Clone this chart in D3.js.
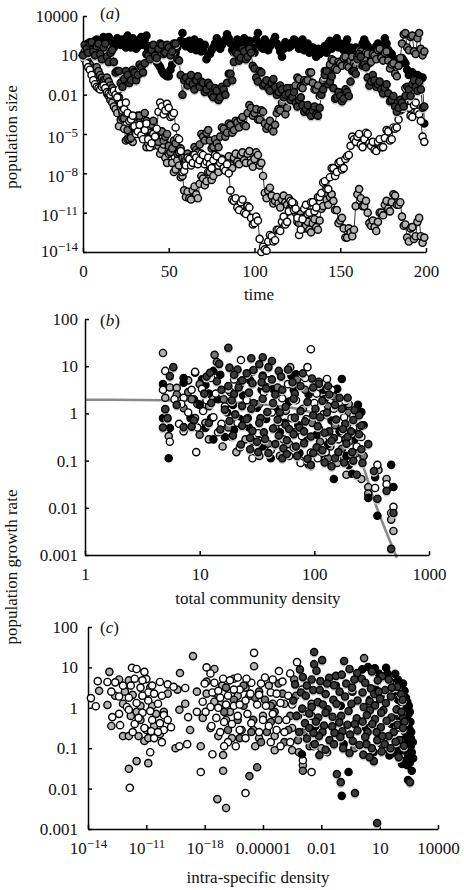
<!DOCTYPE html>
<html>
<head>
<meta charset="utf-8">
<script src="https://cdn.jsdelivr.net/npm/d3@7"></script>
<style>
    body { margin: 0; background: #fff; }
    text { font-family: "Liberation Serif", serif; font-size: 17px; fill: #111; }
    .domain, .tick line { stroke: #000; stroke-width: 1.5; }
</style>
</head>
<body>
<div id="chart"></div>
<script>
//all values are log10 of what the axes show

//panel a: even time steps, then the odd ones in between
var aTimes = d3.range(0, 200);
var aBlack = [
    1,1.6,2,1.7,2.2,1.8,2.4,1.9,2.1,1.6,
    2.3,1.8,1.9,2.5,1.6,2.1,1.7,2.4,2.2,1.4,
    1.3,0.8,0.3,-0.2,-0.5,-0.6,0.3,1.2,1.9,2.7,
    1.7,2.1,1.8,1.4,2,1.5,0.7,1.1,1.6,2.3,
    1.5,2,2.6,1.9,1.2,2.2,1.7,2.3,1.8,1.3,
    1.2,2.7,1.6,2.2,1.4,1.9,2.4,1.7,0.9,2,
    1.6,2,2.1,1.5,2.2,1.7,1.2,1.6,0.9,1.1,
    1.5,1.2,2.1,1.7,2.3,1.9,1.4,2.2,1.6,1,
    0.8,1.4,2.2,1.7,1,1.5,1.9,1.2,2.3,1.4,
    1.1,0.6,0.2,0.8,0.4,-0.5,-0.3,-0.7,-0.6,-0.7
];
var aBlackOdd = [
    1.3,1.9,1.5,2.1,1.6,2.2,1.7,2.4,1.5,2.1,
    1.9,2.2,1.6,2,2.3,1.5,2.2,1.8,2.5,1.7,
    0.9,0.5,0.1,-0.4,-0.6,-0.1,0.8,1.6,2.1,2,
    2,1.5,2.2,1.8,1.3,1.8,1,1.4,1.9,1.7,
    1.8,2.2,2.3,1.4,1.7,1.9,2,1.5,2.1,1.6,
    2.2,1.9,1.5,1.8,1.7,2.1,1.9,1.3,1.5,1.8,
    1.7,2.2,1.8,1.9,1.4,1.9,1.3,1.2,1.5,1.4,
    1.7,1.9,1.5,2,1.6,1.8,1.9,1.3,1.2,1.6,
    1.1,1.9,1.9,1.3,1.3,1.7,1.5,1.8,1.9,1.2,
    0.8,0.4,0.5,0.6,-0.1,-0.4,-0.6,-0.5,-0.8,-4.2
];
var aDark = [
    1,1.5,1.9,1.3,1.7,1.1,1.6,0.9,1.2,0.5,
    -0.2,-1.1,-0.8,-0.5,-0.9,-0.3,-0.5,0.1,0.4,1,
    1.4,1,1.5,1.8,1.2,1.6,1.3,1.9,0.6,-2,
    -0.7,-1,-1.2,-0.9,-1.4,-1.1,-1.6,-1.3,-2.2,-1.7,
    -2.2,-1.6,-1.1,-0.4,0.5,1.1,0.8,1.3,0.9,1.2,
    0,-1,-0.3,-1.2,-1.5,-1.1,-1.4,-1.8,-1.6,-2,
    -1.9,-2.2,-2.6,-2.4,-2.8,-3.1,-3.4,-3.2,-3.5,-3,
    -1.6,-0.2,-1,-1.5,-2.2,-2.1,-2.3,-1.8,-1,-0.2,
    0.7,0.9,0.3,-0.7,-1,-0.9,-1.2,-1.6,-1.5,-1.9,
    -2.4,-2.9,-3,-2.6,-2.1,-1.6,-1.2,-1.4,-1,-3
];
var aDarkOdd = [
    1.8,1.2,2,1,1.9,0.7,1.9,0.5,1.4,-0.3,
    -0.2,-1.4,-0.2,-1.1,-0.1,-0.9,0.3,-0.3,1.1,0.7,
    1.8,0.8,1.9,1.1,1.8,1,1.9,0.7,-0.5,-0.9,
    -1.3,-0.5,-1.6,-0.6,-1,-1.8,-1.1,-2,-1.5,-2.4,
    -1.4,-2,-0.4,-0.9,1.2,0.6,1.5,0.7,1.5,0.2,
    -0.7,-0.2,-1.3,-0.9,-1.7,-0.8,-2,-1.3,-2.2,-1.5,
    -2.4,-1.8,-2.9,-2.2,-3.3,-2.8,-3.6,-2.9,-3.6,-2,
    -0.5,-1.2,-0.6,-2.3,-1.8,-2.5,-1.6,-2.1,-0.2,-0.4,
    1.1,0.2,0.1,-1.3,-0.5,-1.4,-1,-1.9,-1.2,-2.5,
    -2.1,-3.3,-2.4,-2.9,-1.4,-2.1,-0.9,-1.7,-1.6,-2.9
];
var aMid = [
    1,0.8,0.3,-0.2,0.1,-0.5,-0.9,-0.7,-1.3,-1.8,
    -2.3,-3,-3.8,-4.7,-5.3,-4.2,-3.6,-4.9,-3.4,-5.4,
    -4.3,-4.9,-5.6,-4.8,-5.2,-5.9,-6.1,-5.7,-6.4,-6.8,
    -7,-6.9,-6.6,-6.2,-5.8,-5.2,-4.9,-5.5,-6,-5.7,
    -5.2,-4.6,-4.9,-4.3,-4.7,-4.1,-3.9,-4.3,-3.4,-3,
    -3.4,-3.9,-3.2,-4.2,-4.4,-4.6,-4.3,-3.1,-2.6,-3.5,
    -1.6,-2.2,-1.3,-0.8,-1.5,-1,-0.3,-1.1,-1.6,-2.1,
    -0.9,-0.2,0.3,0.6,-0.1,0.4,0.8,0.2,0.6,0.4,
    0.9,1.3,0.7,1.1,0.5,1,1.4,0.8,1.2,0.6,
    0.3,-0.4,0.2,1.9,2.7,1.4,2.5,1.1,2.7,1
];
var aMidOdd = [
    0.9,0.5,0,-0.1,-0.2,-0.7,-0.8,-1,-1.5,-2,
    -2.2,-3.8,-3.4,-5.4,-4.4,-4.6,-3.6,-5,-4,-5.5,
    -4,-5.5,-4.8,-5.5,-5,-6.4,-5.5,-6.5,-6.1,-7.2,
    -6.5,-7.2,-6,-6.4,-5,-5.5,-4.7,-6.1,-5.4,-6,
    -4.5,-5.2,-4.2,-4.9,-4,-4.5,-3.7,-4.4,-2.8,-3.6,
    -3.1,-3.9,-3.3,-4.6,-4,-4.8,-3.4,-3.2,-2.3,-3,
    -1.5,-2.2,-0.7,-1.4,-0.9,-0.9,-0.3,-1.6,-1.3,-1.9,
    -0.2,-0.3,0.7,0,0.5,0.2,0.9,0.1,0.9,0.2,
    1.4,0.6,1.2,0.4,1.1,0.7,1.5,0.6,1.3,0,
    0.4,-0.6,0.8,2.6,1.6,2.4,1.3,2.3,1.5,1.3
];
var aLight = [
    1,0.6,0.1,-0.4,-1,-1.5,-1.1,-1.9,-2.4,-2.9,
    -3.4,-3.9,-4.6,-5.4,-5.1,-4.6,-4,-4.8,-5.3,-5.7,
    -5.1,-5.5,-5.9,-6.2,-6.8,-6.5,-7.2,-7.7,-7.4,-8.2,
    -9.8,-9.9,-9.3,-9.6,-8.8,-8.4,-8.6,-7.9,-8.2,-7.5,
    -7.2,-7.6,-7,-7.4,-6.8,-7.1,-6.6,-7,-6.5,-7.2,
    -6.9,-6.6,-7.2,-9.5,-9.3,-9.7,-10.1,-10.3,-10,-10.2,
    -9.9,-10.5,-11,-11.8,-11.4,-12,-12.3,-11.8,-12.1,-11.6,
    -10.5,-10,-9.8,-10.1,-10.8,-11.6,-12.2,-12.9,-12.5,-12.3,
    -9.6,-9.9,-10.5,-11,-12,-12.1,-11.7,-11,-10.4,-10.7,
    -10.2,-9.7,-10.4,-11.3,-11.9,-13.2,-12.1,-12.8,-11.4,-13.3
];
var aLightOdd = [
    0.8,0.3,-0.2,-0.7,-1.2,-1.3,-1.5,-2.1,-2.6,-3.1,
    -4.4,-3.4,-5.5,-4.8,-5.6,-3.8,-5,-4.3,-6,-4.9,
    -5.9,-5,-6.5,-5.8,-7.2,-6.3,-7.9,-7,-8.3,-9.3,
    -9.4,-10,-9,-9.9,-8.2,-8.9,-7.9,-8.5,-7.5,-7.9,
    -6.9,-7.7,-6.7,-7.6,-6.5,-7.3,-6.4,-7.2,-6.3,-7.5,
    -6.4,-7.4,-8.2,-9.9,-9.1,-10.3,-9.8,-10.6,-9.7,-10.4,
    -10.6,-10.3,-11.7,-11.1,-12.2,-11.7,-12.5,-11.5,-12.3,-10.7,
    -9.7,-10.4,-9.6,-10.8,-11.8,-11.4,-12.9,-12.2,-12.8,-10.5,
    -9.2,-10.5,-10.1,-11.8,-11.6,-12.4,-11,-11.2,-10.1,-10.9,
    -9.6,-10.4,-10.2,-12,-12.9,-12.2,-13,-11.7,-12.8,-12.9
];
var aWhite = [
    1,0.4,-0.1,-0.9,-1.4,-1.6,-1.3,-1.8,-2,-1.7,
    -2.2,-2.7,-3.1,-3.4,-3.9,-4.4,-4.8,-5.1,-4.7,-5.4,
    -5.7,-5.2,-3.3,-2.9,-3.2,-3,-3.6,-4.5,-5.4,-7.9,
    -7.4,-6.9,-7.2,-6.8,-7,-6.6,-7.1,-7.3,-7,-6.7,
    -7.2,-7.6,-7.3,-9.3,-10.1,-10.6,-10.2,-11,-10.5,-11.4,
    -11.8,-11.6,-14,-13.8,-13.2,-12.8,-13.1,-12.3,-11.7,-11.9,
    -10.9,-10.2,-10.7,-12.7,-11.5,-10.4,-11,-10.2,-10.6,-9.8,
    -8.7,-9.2,-8.3,-7.6,-7.9,-7.1,-7.6,-6.7,-5.9,-5.4,
    -5.2,-5.8,-5.4,-5,-5.9,-6.2,-5.6,-6,-5.3,-4.8,
    -5.4,-4.6,-3.9,-3.1,-1.5,-3,-3.7,-2.6,-3.5,-5.2
];
var aWhiteOdd = [
    0.7,0.1,-0.5,-1.2,-1.5,-1.4,-1.5,-1.9,-1.8,-2,
    -1.6,-3.2,-2.6,-4,-3.6,-5,-4.3,-5.4,-4.2,-6,
    -5,-4.6,-2.6,-3.5,-2.7,-3.7,-3.4,-5.3,-6.3,-7.8,
    -6.8,-7.4,-6.6,-7.3,-6.5,-7.3,-6.8,-7.6,-6.6,-7.4,
    -7,-7.8,-8,-10,-9.9,-10.8,-10,-11.1,-10.6,-11.9,
    -11.3,-13,-13.6,-13.9,-12.7,-13.2,-12.3,-12.4,-11.3,-11.7,
    -10.1,-10.8,-11.4,-12.3,-10.7,-11.1,-10.2,-10.9,-9.8,-9.5,
    -8.6,-9.2,-7.6,-8.2,-7.2,-7.7,-6.9,-6.6,-5.2,-5.6,
    -5,-6,-4.9,-5.7,-5.6,-6.3,-5.4,-6,-4.7,-5.5,
    -4.5,-4.5,-3.2,-2.6,-2,-3.6,-2.8,-3.3,-4,-5.6
];

//panel b: [community density, growth rate]
var bLight = [[.68,1.28],[.74,.55],[.8,.54],[.7,.33],[.96,-.1],[.73,-.48],[1.32,-.82],[2.41,-1.39],[2.47,-1.56],[2.47,-1.7],[2.63,-1.39],[2.67,-2.25],[2.69,-2.49],[2.56,-1.2],[1.79,.98],[1.1,.35],[1.05,-.2],[1.27,.45],[1.4,-.55],[1.55,.8],[1.66,-.3],[1.78,-.65],[1.9,.1],[2,-.85],[2.07,.42],[2.14,-.7],[2.2,-1.05],[2.25,.1],[2.33,-.42],[1.97,-1.12],[1.2,-.7],[1.02,.62],[1.7,-.9],[2.28,-1.3],[1.88,-1],[.9,.7],[.98,.2],[1.08,-.55],[2.3,.2],[1.52,-.9]];
var bMid = [[.8,.4],[.86,.11],[.93,.3],[1.13,1.24],[1.15,1.09],[1.08,.15],[1.25,-.3],[1.35,.6],[1.42,-.1],[1.52,.2],[1.6,-.65],[1.68,.55],[1.75,.05],[1.83,-.4],[1.92,.5],[1.98,-.2],[2.05,-.6],[2.12,.15],[2.18,-.25],[2.24,-.75],[2.3,.02],[2.38,-.3],[2.43,-.9],[2.12,-.95],[1.47,-.6],[1.21,.3],[1,-.45],[2.36,-.85],[1.85,.72],[2.17,.36],[.9,.45],[1,.62]];
var bBlack = [[.68,.62],[.68,-.1],[.74,-.31],[.86,.75],[.86,.65],[.96,.86],[1.05,-.31],[.73,-.95],[1.87,-.84],[1.84,.83],[1.8,.8],[2.24,.73],[2.2,.52],[2.41,.03],[2.17,-1.39],[2.33,-1.28],[2.47,-1.79],[2.55,-2.17],[2.67,-1.09],[2.53,-1.35],[2.69,-1.56],[1.02,.72],[1.08,.42],[1.18,.82],[1.24,.02],[1.3,-.35],[1.38,.38],[1.44,.7],[1.5,.12],[1.58,-.12],[1.64,.52],[1.7,-.4],[1.78,.25],[1.86,-.25],[1.95,.4],[2.02,-.45],[2.09,.3],[2.15,-.15],[2.22,-.38],[2.28,-.9],[2.05,-.88],[1.95,-1.08],[2.35,-.55],[1.32,.88],[1.12,.9],[.95,.3],[1.55,-.7],[2.3,-1.1],[2.43,-.25],
    [1.05,.6],[1.1,-.1],[1.16,.3],[1.22,-.5],[1.29,.18],[1.35,-.12],[1.43,-.3],[1.54,.5],[1.66,.1],[1.74,-.2],[1.82,.5],[1.92,-.55],[2.08,.5],[2.12,-.65],[2.27,-.55],[2.38,.18],[1.62,-.95],[1.12,-.55],[1.0,.18],[.92,-.1]];
var bWhite = [[.7,.9],[.68,.5],[.86,.33],[.86,-.38],[.74,-.6],[.96,.88],[.93,.5],[1.97,1.36],[1.36,1.13],[1.94,.98],[2.11,.73],[2.04,.67],[2.27,.26],[2.41,-.5],[2.34,-.3],[2.34,-.05],[2.53,-1.58],[2.55,-1.09],[2.63,-1.5],[2.69,-1.98],[2.67,-2.11],[.97,-.82],[1.46,-.95],[1.88,-1.05],[1.97,-.83],[.84,.2],[1.02,.52],[1.1,.75],[1.03,.05],[1.16,-.4],[1.14,.42],[1.22,.15],[1.3,.72],[1.33,-.2],[1.41,.28],[1.46,.62],[1.51,-.42],[1.56,.45],[1.63,.02],[1.69,-.18],[1.72,.32],[1.8,-.1],[1.84,.28],[1.89,-.48],[1.93,-.12],[2,.22],[2.04,-.32],[2.08,-.02],[2.13,-.5],[2.17,.1],[2.21,-.55],[2.26,-.08],[2.3,-.6],[2.1,-.82],[2.03,-.95],[1.82,-.72],[1.62,-.78],[1.35,-.72],[1.25,.5],[2.15,.5],[2.02,.42],[1.77,.62],[1.6,.7],[1.46,.88],[1.92,.75],[1.12,-.08],[1.28,-.5],[.98,-.3],[2.37,-.7],[1.73,-.55],[.78,.3],[.82,-.22],[.9,.02],[1.06,.28],[1.19,-.22],[2.2,-.95],[1.78,-.9],[1.53,-.58]];
var bDark = [[.77,.98],[.74,.79],[1.06,.78],[.7,.09],[.72,-.1],[.68,-.3],[.86,-.29],[.95,-.15],[.93,-.28],[.8,.18],[1.25,1.39],[1.55,1.19],[1.45,1.17],[1.63,1.11],[2.34,-.14],[2.47,-.65],[1.51,-.82],[1.72,-.95],[1.76,-.86],[1.97,-1.09],[2.37,-1.3],[2.55,-1.81],[2.52,-1.22],[2.63,-1.64],[2.69,-2.11],[2.67,-2.87],
    [1.17,1.05],[1.33,.93],[1.52,1.04],[1.69,.9],[1.77,.93],[1.26,.97],[1.6,.98],
    [1.09,.86],[1.3,.82],[1.41,.85],[1.55,.78],[1.71,.78],[1.9,.85],[1.98,.74],[1.47,.92],
    [1.15,.68],[1.37,.7],[1.46,.64],[1.63,.72],[1.81,.66],[1.88,.58],[2.04,.63],[2.12,.58],[1.25,.58],[1.54,.66],
    [1.04,.42],[1.19,.5],[1.34,.55],[1.43,.44],[1.58,.53],[1.72,.5],[1.83,.42],[1.99,.55],[2.13,.4],[2.22,.33],[1.3,.41],[1.66,.4],
    [1.1,.22],[1.28,.28],[1.37,.16],[1.55,.31],[1.64,.22],[1.82,.31],[1.94,.24],[2.07,.27],[2.18,.18],[2.29,.33],[1.47,.22],[1.75,.14],
    [1.22,.08],[1.31,-.02],[1.45,.1],[1.59,.03],[1.7,.02],[1.88,.05],[2.01,.1],[2.11,.02],[2.24,.1],[2.35,.07],[1.99,-.04],[1.53,-.1],
    [1.08,-.2],[1.26,-.16],[1.41,-.12],[1.52,-.2],[1.68,-.13],[1.83,-.09],[1.92,-.17],[2.05,-.08],[2.19,-.13],[2.27,-.22],[2.39,-.04],[1.75,-.24],
    [1.18,-.34],[1.37,-.26],[1.46,-.37],[1.64,-.32],[1.78,-.33],[1.87,-.3],[2.03,-.27],[2.13,-.38],[2.25,-.33],[2.41,-.26],[2.32,-.38],[1.56,-.4],
    [1.29,-.47],[1.44,-.52],[1.57,-.54],[1.69,-.47],[1.82,-.44],[1.97,-.49],[2.09,-.41],[2.17,-.52],[2.29,-.5],[2.39,-.44],[1.91,-.38],
    [1.36,-.66],[1.5,-.6],[1.66,-.65],[1.76,-.57],[1.91,-.63],[2.02,-.72],[2.15,-.58],[2.28,-.64],[2.41,-.76],[1.84,-.7],
    [1.44,-.76],[1.6,-.84],[1.73,-.74],[1.85,-.9],[1.99,-.84],[2.07,-.78],[2.21,-.82],[2.42,-1.05],[2.33,-.82],[1.94,-.96],
    [2.26,-1.04],[2.34,-1],[2.15,-1.12],[2.09,-1.04],[2.18,-.95]];
//fitted growth curve in panel b
var bCurveX = [0,.7,1.5,2,2.3,2.4,2.52,2.72];
var bCurveY = [.29,.28,.2,0,-.5,-.95,-1.83,-3.06];

//panel c: [intra-specific density, growth rate]
var cLight = [[-13.43,.42],[-13,.07],[-12.9,.89],[-12.8,-.45],[-12.2,-.7],[-11.9,-.7],[-11.4,-.7],[-11.1,-.82],[-12.4,.7],[-12.1,.4],[-11.9,.68],[-11.2,.3],[-11.5,-.1],[-12.2,.1],[-10.8,.5],[-10.6,-.45],[-10.3,-.65],[-10.1,-.1],[-11,-.55],[-9.9,.35],[-8.6,1.28],[-9.27,.86],[-8.75,-.55],[-9.4,.45],[-9.3,-.05],[-9,.1],[-8.4,.4],[-7.5,.96],[-7.9,.65],[-7.2,.1],[-6.9,-.3],[-6.5,.72],[-6.1,-.55],[-5.7,.3],[-5.46,1.03],[-5,-.2],[-4.7,.55],[-4.4,-.7],[-3.9,.1],[-3.5,-.5],[-11.9,-1.51],[-11.5,-1.32],[-10.9,-1.37],[-9.5,-1],[-7.05,-1.56],[-7.05,-1.17],[-7.35,-2.26],[-6.9,-2.48],[-2.95,-1.42],[-4.4,-1.05],[-3.5,-1.05],[-3.15,-1.1],[-5.4,-.95],[-8.2,-.95],[-2.5,-.2],[-2,-1],
    [-12.6,.3],[-11.7,.32],[-11.3,.05],[-10.7,.05],[-10.5,-.15],[-11.3,-.3],[-11.8,-.2],[-10.9,-.75],[-7.9,.35],[-7.5,.15],[-7.1,.55],[-6.7,-.1],[-6.3,.3],[-5.9,.5],[-5.5,-.55],[-5.2,-.75],[-4.5,.1],[-4.2,-.3],[-7.7,-.5],[-7.3,-.7],[-6.6,-.75],[-8.1,-.25]];
var cMid = [[-7,-.1],[-6.5,.2],[-6,.55],[-5.5,-.3],[-5.2,.4],[-4.8,-.6],[-4.2,.6],[-3.9,-.85],[-3.3,.3],[-2.9,-.6],[-6.2,-.75],[-7.4,.35],[-5.7,-1.69],[-5.3,-1.47],[-2.95,-1.56],[-4.6,.05],[-3.6,-.2],[-.3,-1],[.2,1.23],[-2.5,.1],[-2.6,-.95],[-1.7,-1.1],[-6.8,-.55],[-4.9,.2],
    [-6.9,.5],[-6.3,-.3],[-5.6,-.6],[-5.4,.25],[-4.4,-.1],[-4,.35],[-3.7,-.55],[-3.2,-.8],[-3.4,.7],[-6,.05],[-4.6,-.35],[-5.1,-.85]];
var cWhite = [[-13.85,.24],[-13.6,.04],[-13.5,.66],[-13,.64],[-12.6,.63],[-12.8,.4],[-12.75,-.23],[-12.4,-.15],[-12.35,-.43],[-11.74,.99],[-11.5,.96],[-11.1,.89],[-11,.71],[-10.3,.64],[-11.8,.55],[-11.3,.5],[-10.9,.38],[-10.6,.35],[-11.9,.25],[-11.5,.12],[-10.9,.18],[-10.4,.1],[-12,.02],[-11.2,-.12],[-10.7,-.3],[-10.3,-.38],[-11.6,-.4],[-11.1,-.5],[-10.75,-.58],[-10.2,-.85],[-9.73,-.48],[-10.1,-.55],[-10.8,-1.1],[-11.85,-1.98],[-9.9,.58],[-9.6,.52],[-9,.49],[-8.85,-.23],[-7.9,1],[-7.7,.85],[-8.1,.15],[-7.6,.38],[-7.3,.42],[-7.7,.02],[-7.2,.25],[-6.8,.3],[-6.5,.05],[-7.4,-.25],[-7,-.35],[-6.6,-.4],[-6.2,.45],[-5.9,.18],[-6.3,-.2],[-5.8,-.15],[-5.46,1.36],[-5.6,.62],[-5.1,.6],[-4.9,.75],[-4.6,.38],[-5.3,.08],[-5,-.3],[-4.7,-.45],[-4.18,.91],[-4.3,.35],[-4,.65],[-3.25,1.13],[-3.8,-.3],[-3.5,.08],[-3.2,-.2],[-3,.45],[-6.8,-.85],[-6.4,-.95],[-5.9,-.75],[-8.2,-1.59],[-5.9,-2.11],[-7,-.95],[-2.95,-1.3],[-2.5,-1.59],[-4.6,-.85],[-3.9,-.6],[-8.9,-.9],[-9.3,-.95],[-7.6,-1.15],[-4.1,-.95],[-2.4,-.95],[-3.6,-.85],[-2.8,-.1],
    [-12.2,.55],[-11.6,.72],[-11.2,.68],[-10.7,.55],[-10.2,.3],[-12.4,.28],[-11.2,.3],[-10.8,-.08],[-10.1,-.18],[-11.9,-.05],[-11.4,-.25],[-10.4,-.6],[-9.9,-.3],[-10.6,-.75],[-11.7,-.6],[-8,.6],[-7.5,.62],[-7.05,.72],[-6.7,.68],[-6.3,.75],[-5.85,.72],[-7.95,-.1],[-7.3,0],[-6.9,.08],[-6.2,.08],[-5.65,.35],[-5.2,.32],[-4.85,.05],[-4.5,-.15],[-4.1,.12],[-3.7,.3],[-7.65,-.45],[-7.2,-.6],[-6.2,-.55],[-5.6,-.38],[-5.2,-.6],[-4.3,-.55],[-8.4,-.1],[-6.5,.45],[-4.5,.7],[-3.6,.85]];
var cBlack = [[.4,1.01],[.75,.98],[1.33,.99],[1.8,.84],[1.95,.69],[2.15,.39],[2.4,.02],[2.45,-.3],[2.3,-.6],[2.4,-.92],[2.6,-.75],[2.2,.6],[2.35,.25],[2.5,.05],[2.25,-.1],[1.95,.2],[2.45,-1.15],[2.65,-1.1],[2.3,-1.05],[2.15,-1.39],[2.35,-1.3],[2.56,-1.35],[2.65,-1.56],[2.46,-1.79],[-.6,-1.59],[-.95,-2.18],[.7,-1.1],[1.3,-1.05],[1.7,-1.12],[-1.25,.55],[-.85,-.9],[-3,-1.15],[1.1,.75],[1.55,.65],[1.05,.3],[1.6,-.4],[1.9,-.2],[2,-.85],[2.55,-.55],[2.05,-.5],[2.2,-.8],[1.1,-.9],[.5,.2],[.3,-.5],[2.6,-.95],[1.8,-.95],[2.48,-.15],
    [2.05,.5],[2.28,.42],[2.42,.15],[2.55,-.1],[2.58,-.35],[2.48,-.48],[2.35,-.2],[2.62,-.6],[2.7,-.85],[2.5,-.72],[2.3,-.85],[2.15,-1.05],[2.52,-1.02],[2.72,-1.25],[2.42,-1.42],[1.95,-1.1],[1.5,-1.18],[2.1,.15],[1.75,.4],[1.4,.85],[.95,.85],[.1,.95],[-.4,.4],[-1,.05],[-2.3,-.45],[.8,.45]];
var cDark = [[-2.37,1.38],[-2.37,1.08],[-1.96,1.18],[-.83,1.16],[-.16,.86],[-1.25,.79],[-2.1,-1.17],[-1.2,-1.64],[-1,-1.84],[-.27,-2.11],[.7,-1.32],[.87,-2.85],[2.56,-1.84],[2.2,-.25],
    [-2.95,.76],[-2.25,.92],[-1.6,.74],[-.55,.96],[.08,.72],[.6,.9],[1.12,.78],[-2.5,.7],[-.95,.82],
    [-3.35,.58],[-2.75,.55],[-2.05,.66],[-1.35,.56],[-.72,.6],[-.3,.7],[.26,.62],[.9,.68],[1.47,.7],[1.9,.52],[-1.7,.6],[.55,.48],
    [-3.05,.38],[-2.42,.44],[-1.78,.34],[-1.06,.4],[-.42,.5],[.12,.38],[.72,.34],[1.28,.44],[1.62,.5],[2.1,.34],[-2.08,.44],[.95,.4],
    [-3.45,.18],[-2.8,.3],[-2.18,.14],[-1.38,.2],[-.78,.28],[-.14,.18],[.48,.16],[1.02,.22],[1.58,.28],[2.18,.2],[-.45,.1],[1.32,.12],
    [-2.98,-.02],[-2.5,.02],[-1.68,-.04],[-1.22,.1],[-.6,-.08],[.18,.02],[.76,.06],[1.19,-.06],[1.87,-.04],[-1.92,.08],[.5,-.06],
    [-3.28,-.2],[-2.62,-.14],[-2.16,-.24],[-1.42,-.22],[-.98,-.2],[-.18,-.26],[.34,-.18],[1.08,-.12],[1.6,-.24],[2.12,-.1],[-1.78,-.12],[.76,-.28],
    [-2.84,-.38],[-2.28,-.34],[-1.86,-.44],[-1.08,-.36],[-.66,-.42],[.12,-.34],[.62,-.4],[1.36,-.32],[1.92,-.42],[-1.44,-.46],[-.28,-.4],[2.28,-.34],
    [-3.14,-.6],[-2.62,-.5],[-1.94,-.6],[-1.32,-.62],[-.92,-.58],[-.14,-.56],[.38,-.6],[1.06,-.48],[1.72,-.6],[2.2,-.5],[.84,-.6],[-.52,-.66],
    [-2.74,-.76],[-2.12,-.7],[-1.58,-.8],[-1.02,-.72],[-.38,-.82],[.26,-.72],[.88,-.8],[1.46,-.7],[2.02,-.8],[1.14,-.7],[-2.4,-.62],
    [-2.34,-.9],[-1.78,-1.04],[-.88,-1],[-.04,-.92],[.6,-1],[1.26,-.9],[1.82,-.84],[2.25,-.94],[-1.35,-.9],[.32,-.9],
    [-.55,-1.12],[.16,-1.16],[.48,-1.22],[1.1,-1.08],[1.56,-1],[1.98,-1.22],[-3.1,.95]];

//tick values and labels, "^" starts a superscript
var aTickX = [0, 50, 100, 150, 200];
var aTickY = [4, 1, -2, -5, -8, -11, -14];
var aLabelsY = ["10000", "10", "0.01", "10^\u22125", "10^\u22128", "10^\u221211", "10^\u221214"];
var bTickX = [0, 1, 2, 3];
var bLabelsX = ["1", "10", "100", "1000"];
var rateTickY = [2, 1, 0, -1, -2, -3];
var rateLabelsY = ["100", "10", "1", "0.1", "0.01", "0.001"];
var cTickX = [-14, -11, -8, -5, -2, 1, 4];
var cLabelsX = ["10^\u221214", "10^\u221211", "10^\u221218", "0.00001", "0.01", "10", "10000"];

var shades = { black: "#000", dark: "#3a3a3a", mid: "#777", light: "#b4b4b4", white: "#fff" };

var pow10 = function(v) { return Math.pow(10, v); };

var svg = d3.select("#chart")
    .append("svg")
    .attr("width", 464)
    .attr("height", 890);

function writeLabel(text, label, supSize) {
    var parts = label.split("^");
    text.append("tspan").text(parts[0]);
    if(parts[1]) {
        text.append("tspan")
            .attr("dy", -6)
            .style("font-size", supSize + "px")
            .text(parts[1]);
    }
}

function drawAxes(x, y, xTicks, xLabels, yTicks, yLabels, xVal) {
    var left = x.range()[0];
    var bottom = y.range()[0];

    var xAxis = svg.append("g")
        .attr("transform", "translate(0," + bottom + ")")
        .call(d3.axisBottom(x)
            .tickValues(xTicks.map(xVal))
            .tickSizeInner(-4)
            .tickSizeOuter(0)
            .tickFormat(""));

    xAxis.selectAll(".tick").each(function(d, i) {
        var t = d3.select(this).append("text")
            .attr("y", 25)
            .attr("text-anchor", "middle");
        writeLabel(t, xLabels[i], 13);
    });

    var yAxis = svg.append("g")
        .attr("transform", "translate(" + left + ",0)")
        .call(d3.axisLeft(y)
            .tickValues(yTicks.map(pow10))
            .tickSizeInner(-4)
            .tickSizeOuter(0)
            .tickFormat(""));

    yAxis.selectAll(".tick").each(function(d, i) {
        var label = yLabels[i];
        var t = d3.select(this).append("text")
            .attr("x", 78 - left)
            .attr("text-anchor", "end");
        //the sup label on the corner sits higher so it clears the axis
        if(label.indexOf("^") < 0) { t.attr("y", 5.5); }
        else if(i === yLabels.length - 1) { t.attr("y", 4); }
        else { t.attr("y", 8); }
        writeLabel(t, label, 13);
    });

    svg.selectAll(".domain").attr("fill", "none");
}

function drawDots(points, x, y, fill, shadow) {
    if(shadow) {
        svg.append("g").selectAll("circle")
            .data(points)
            .enter()
            .append("circle")
            .attr("cx", function(d) { return x(d[0]); })
            .attr("cy", function(d) { return y(d[1]) + 1.6; })
            .attr("r", 4.2)
            .attr("fill", "#c6c6c6");
    }
    svg.append("g").selectAll("circle")
        .data(points)
        .enter()
        .append("circle")
        .attr("cx", function(d) { return x(d[0]); })
        .attr("cy", function(d) { return y(d[1]); })
        .attr("r", 3.6)
        .attr("fill", fill)
        .attr("stroke", "#000")
        .attr("stroke-width", 1.4);
}

function logPairs(pairs) {
    return pairs.map(function(p) { return [pow10(p[0]), pow10(p[1])]; });
}

//puts the odd time steps back between the even ones
function weave(even, odd) {
    var out = [];
    for(var i = 0; i < even.length; i++)
    {
        out.push(even[i], odd[i]);
    }
    return out;
}

function drawTitle(label, x, y) {
    svg.append("text").attr("x", x).attr("y", y).attr("text-anchor", "middle").text(label);
}

function drawYTitle(label, y) {
    svg.append("text")
        .attr("transform", "translate(17," + y + ") rotate(-90)")
        .attr("text-anchor", "middle")
        .text(label);
}

function drawTag(letter, y) {
    var t = svg.append("text").attr("x", 100).attr("y", y);
    t.append("tspan").text("(");
    t.append("tspan").style("font-style", "italic").text(letter);
    t.append("tspan").text(")");
}

//panel a
function renderTime() {
    var x = d3.scaleLinear().domain([0, 200]).range([83, 426]);
    var y = d3.scaleLog().domain([1e-14, 1e4]).range([252, 16]);

    drawAxes(x, y, aTickX, aTickX.map(String), aTickY, aLabelsY, function(v) { return v; });

    var series = [
        [weave(aBlack, aBlackOdd), shades.black, false],
        [weave(aLight, aLightOdd), shades.light, false],
        [weave(aMid, aMidOdd), shades.mid, false],
        [weave(aWhite, aWhiteOdd), shades.white, false],
        [weave(aDark, aDarkOdd), shades.dark, true]
    ];

    var line = d3.line()
        .x(function(d) { return x(d[0]); })
        .y(function(d) { return y(d[1]); });

    series.forEach(function(s) {
        var pts = s[0].map(function(v, i) { return [aTimes[i], pow10(v)]; });
        svg.append("path")
            .attr("d", line(pts))
            .attr("fill", "none")
            .attr("stroke", "#000")
            .attr("stroke-width", 0.8);
        drawDots(pts, x, y, s[1], s[2]);
    });

    drawTag("a", 19);
    drawTitle("time", 259, 300);
    drawYTitle("population size", 137);
}

//panel b
function renderCommunity() {
    var x = d3.scaleLog().domain([1, 1000]).range([85, 429]);
    var y = d3.scaleLog().domain([0.001, 100]).range([555, 319]);

    var line = d3.line()
        .curve(d3.curveMonotoneX)
        .x(function(d) { return x(d[0]); })
        .y(function(d) { return y(d[1]); });

    var curve = bCurveX.map(function(v, i) { return [pow10(v), pow10(bCurveY[i])]; });
    svg.append("path")
        .attr("d", line(curve))
        .attr("fill", "none")
        .attr("stroke", "#8a8a8a")
        .attr("stroke-width", 2.6);

    drawAxes(x, y, bTickX, bLabelsX, rateTickY, rateLabelsY, pow10);

    drawDots(logPairs(bLight), x, y, shades.light, false);
    drawDots(logPairs(bBlack), x, y, shades.black, false);
    drawDots(logPairs(bMid), x, y, shades.mid, false);
    drawDots(logPairs(bWhite), x, y, shades.white, false);
    drawDots(logPairs(bDark), x, y, shades.dark, true);

    drawTag("b", 326);
    drawTitle("total community density", 258, 604);
}

//panel c
function renderIntra() {
    var x = d3.scaleLog().domain([1e-14, 1e4]).range([88, 438]);
    var y = d3.scaleLog().domain([0.001, 100]).range([829, 627]);

    drawAxes(x, y, cTickX, cLabelsX, rateTickY, rateLabelsY, pow10);

    drawDots(logPairs(cLight), x, y, shades.light, false);
    drawDots(logPairs(cMid), x, y, shades.mid, false);
    drawDots(logPairs(cWhite), x, y, shades.white, false);
    drawDots(logPairs(cBlack), x, y, shades.black, false);
    drawDots(logPairs(cDark), x, y, shades.dark, true);

    drawTag("c", 633);
    drawTitle("intra-specific density", 258, 883);
}

renderTime();
renderCommunity();
renderIntra();
drawYTitle("population growth rate", 567);
</script>
</body>
</html>
